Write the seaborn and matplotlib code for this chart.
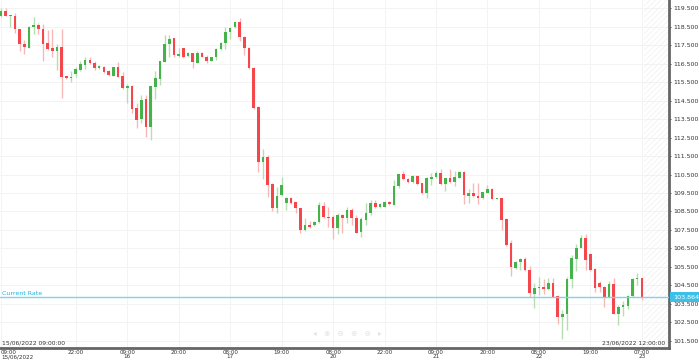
import numpy as np
import pandas as pd
import seaborn as sns
import matplotlib.pyplot as plt

# hourly candles, 15/06/2022 09:00 -> 23/06/2022 (weekend gap removed)
opens = [119.083, 119.372, 119.065, 119.101, 118.361, 117.567, 117.368, 118.505, 118.578, 118.361,
         117.603, 117.368, 117.188, 117.404, 115.816, 115.726, 115.942, 116.159, 116.430, 116.682,
         116.538, 116.249, 116.340, 116.087, 115.834, 116.340, 115.852, 115.184, 115.293, 114.083,
         113.488, 114.571, 113.054, 115.220, 115.690, 116.610, 117.567, 117.892, 116.917, 117.332,
         116.917, 117.061, 116.556, 117.097, 116.881, 116.646, 116.881, 117.278, 117.603, 118.235,
         118.469, 118.740, 117.928, 117.368, 116.285, 114.173, 111.159, 111.430, 109.986, 108.704,
         109.372, 108.939, 109.246, 108.993, 108.668, 107.495, 107.766, 107.748, 107.910, 108.812,
         108.217, 108.217, 107.621, 108.307, 108.128, 108.578, 108.128, 107.403, 108.036, 108.399,
         108.941, 108.724, 108.757, 109.027, 108.849, 109.877, 110.511, 110.240, 110.094, 110.419,
         110.024, 109.482, 110.273, 110.349, 110.598, 109.970, 110.294, 110.110, 110.327, 110.652,
         109.352, 109.515, 109.336, 109.244, 109.515, 109.699, 109.157, 109.212, 108.074, 106.775,
         105.421, 105.778, 105.908, 105.329, 104.029, 104.354, 104.425, 104.316, 104.609, 103.921,
         102.767, 102.946, 104.826, 105.908, 106.504, 107.045, 106.195, 105.367, 104.609, 104.425,
         103.851, 104.555, 102.946, 103.311, 103.396, 103.921, 104.826, 104.880]
closes = [119.372, 119.101, 119.155, 118.361, 117.549, 117.386, 118.505, 118.596, 118.361, 117.549,
          117.314, 117.188, 117.422, 115.798, 115.726, 115.798, 116.195, 116.484, 116.682, 116.520,
          116.267, 116.357, 116.051, 115.870, 116.340, 115.798, 115.166, 115.293, 114.029, 113.452,
          114.535, 113.054, 115.293, 115.708, 116.628, 117.567, 117.838, 116.953, 117.043, 116.881,
          117.061, 116.592, 117.097, 116.881, 116.646, 116.881, 117.278, 117.639, 118.235, 118.415,
          118.776, 117.928, 117.368, 116.249, 114.119, 111.159, 111.466, 109.932, 108.704, 109.336,
          109.932, 109.246, 108.975, 108.668, 107.495, 107.748, 107.675, 107.946, 108.849, 108.181,
          108.163, 107.585, 108.307, 108.128, 108.578, 108.128, 107.349, 108.074, 108.432, 108.941,
          108.724, 108.903, 109.027, 108.887, 109.877, 110.511, 110.240, 110.078, 110.419, 109.986,
          109.482, 110.294, 110.349, 110.598, 109.986, 110.294, 110.110, 110.381, 110.652, 109.390,
          109.515, 109.336, 109.244, 109.536, 109.699, 109.174, 109.212, 108.036, 106.683, 105.475,
          105.778, 105.908, 105.329, 104.067, 104.371, 104.425, 104.316, 104.609, 103.883, 102.767,
          102.946, 104.826, 105.963, 106.504, 107.045, 105.870, 105.329, 104.338, 104.425, 103.851,
          104.555, 102.930, 103.342, 103.434, 103.921, 104.826, 104.880, 103.864]
highs = [119.498, 119.498, 119.155, 119.264, 118.361, 117.784, 118.542, 119.011, 118.686, 118.650,
         118.325, 118.361, 117.567, 118.379, 115.816, 116.123, 116.340, 116.646, 116.845, 116.881,
         116.664, 116.412, 116.376, 116.159, 116.340, 116.610, 116.069, 115.401, 115.347, 114.354,
         114.805, 114.805, 115.293, 116.123, 116.646, 118.054, 118.072, 117.910, 117.332, 117.368,
         117.152, 117.097, 117.188, 117.152, 116.971, 116.881, 117.332, 117.693, 118.469, 118.505,
         118.830, 118.957, 118.000, 117.422, 116.340, 114.209, 111.881, 111.556, 110.058, 109.805,
         110.347, 109.300, 109.264, 109.029, 108.704, 108.127, 108.000, 108.000, 108.993, 108.993,
         108.758, 108.307, 108.397, 108.361, 108.757, 108.670, 108.307, 108.215, 108.941, 109.120,
         109.120, 108.941, 109.081, 109.065, 110.202, 110.527, 110.706, 110.294, 110.473, 110.473,
         110.056, 110.349, 110.598, 110.706, 110.798, 110.294, 110.798, 110.706, 110.690, 110.690,
         109.699, 110.024, 110.056, 109.569, 109.932, 109.753, 109.212, 109.244, 108.129, 106.953,
         105.833, 105.962, 106.049, 105.546, 104.609, 104.966, 104.826, 104.880, 104.880, 103.975,
         103.163, 104.966, 106.141, 106.737, 107.224, 107.278, 106.234, 105.421, 104.733, 104.463,
         104.733, 104.912, 103.434, 103.650, 103.975, 104.880, 105.150, 104.912]
lows = [119.047, 119.083, 118.505, 118.181, 117.206, 117.007, 117.368, 118.108, 118.090, 116.664,
        117.242, 116.881, 116.159, 114.625, 115.690, 115.527, 115.762, 116.123, 116.213, 116.484,
        116.159, 116.213, 116.015, 115.834, 115.834, 115.762, 115.112, 114.354, 113.849, 112.998,
        113.307, 112.549, 112.368, 114.571, 115.347, 116.610, 116.881, 116.845, 116.845, 116.827,
        116.845, 116.267, 116.520, 116.845, 116.520, 116.646, 116.700, 117.242, 117.278, 117.838,
        118.415, 117.747, 116.971, 116.213, 114.029, 110.654, 110.257, 109.300, 108.542, 108.397,
        109.354, 108.578, 108.903, 108.397, 107.314, 107.459, 107.621, 107.711, 107.892, 108.127,
        107.675, 106.990, 107.278, 107.316, 107.858, 107.766, 107.316, 107.132, 107.766, 108.307,
        108.670, 108.670, 108.724, 108.849, 108.849, 109.753, 110.202, 110.056, 110.056, 109.932,
        109.444, 109.212, 109.932, 110.327, 109.932, 109.623, 110.024, 109.877, 110.294, 108.887,
        108.973, 109.298, 108.887, 109.157, 109.482, 109.157, 109.157, 107.495, 106.629, 105.020,
        105.367, 105.329, 105.291, 103.883, 103.255, 103.975, 104.029, 104.246, 103.850, 102.405,
        101.576, 102.080, 104.338, 105.291, 106.504, 105.329, 105.291, 104.154, 104.154, 103.342,
        103.851, 102.930, 102.351, 102.838, 103.201, 103.883, 104.517, 103.705]

current_rate = 103.864
tick_pos = [0, 16, 27, 38, 49, 60, 71, 82, 93, 104, 115, 126, 137]
tick_labels = ["09:00\n15/06/2022", "22:00", "09:00\n16", "20:00", "08:00\n17", "19:00",
               "08:00\n20", "22:00", "09:00\n21", "20:00", "08:00\n22", "19:00", "07:00\n23"]
y_levels = np.arange(101.5, 120.0, 1.0)

df = pd.DataFrame({"open": opens, "high": highs, "low": lows, "close": closes})
df["idx"] = np.arange(len(df))
df["up"] = df["close"] >= df["open"]

sns.set_theme(style="white")
plt.rcParams["font.family"] = ["DejaVu Sans"]
plt.rcParams["hatch.linewidth"] = 0.4

fig = plt.figure(figsize=(6.99, 3.6), dpi=100)
ax = fig.add_axes([0, 12 / 360, 669 / 699, 348 / 360])

green, red = "#45b24a", "#f5474b"
green_w, red_w = "#b5dfb2", "#f8b8b8"

# grid
for y in y_levels:
    ax.axhline(y, color="#f3f3f3", lw=0.7, zorder=0)
for x in tick_pos:
    ax.axvline(x, color="#f3f3f3", lw=0.7, zorder=0)

# future area
ax.axvspan(137.5, 142.8, facecolor="none", hatch="//////", edgecolor="#ececec", lw=0, zorder=0)

# wicks
ax.vlines(df["idx"], df["low"], df["high"],
          colors=np.where(df["up"], green_w, red_w), lw=1.0, zorder=2)
# bodies
body_h = (df["close"] - df["open"]).abs().clip(lower=0.05)
body_b = df[["open", "close"]].min(axis=1)
ax.bar(df["idx"], body_h, bottom=body_b, width=0.56,
       color=np.where(df["up"], green, red), lw=0, zorder=3)

# current rate
cyan = "#3cc0ea"
ax.axhline(current_rate, color="#7fd3ee", lw=1.0, zorder=4)
ax.text(0.003, current_rate + 0.07, "Current Rate", transform=ax.get_yaxis_transform(),
        fontsize=4.5, color="#1fb0e6", va="bottom", ha="left")
ax.text(1.006, current_rate, "103.864", transform=ax.get_yaxis_transform(),
        fontsize=4.6, color="white", va="center", ha="left", zorder=6,
        bbox=dict(facecolor=cyan, edgecolor="none", boxstyle="square,pad=0.45"), clip_on=False)

# range labels
ax.text(0.003, 0.006, "15/06/2022 09:00:00", transform=ax.transAxes, fontsize=4.3,
        color="#333333", ha="left", va="bottom")
ax.text(0.994, 0.006, "23/06/2022 12:00:00", transform=ax.transAxes, fontsize=4.3,
        color="#333333", ha="right", va="bottom")

# faint navigation icons
ax.text(0.52, 0.043, "◂   ⊕   ⊖   ⊕   ⊖   ▸", transform=ax.transAxes, fontsize=5.5,
        color="#e3e3e3", ha="center", va="center")

ax.set_xlim(-0.2, 142.8)
ax.set_ylim(101.105, 119.95)

ax.yaxis.tick_right()
ax.set_yticks(y_levels)
ax.set_yticklabels([f"{v:.3f}" for v in y_levels])
ax.set_xticks(tick_pos)
ax.set_xticklabels(tick_labels, linespacing=0.85)
ax.xaxis.get_majorticklabels()[0].set_horizontalalignment("left")
ax.tick_params(axis="y", right=True, length=1.5, width=0.6, pad=1.5, labelsize=4.5,
               colors="#333333")
ax.tick_params(axis="x", bottom=True, length=1.0, width=0.6, pad=0.3, labelsize=4.1,
               colors="#333333")

for s in ["top", "left"]:
    ax.spines[s].set_visible(False)
for s in ["right", "bottom"]:
    ax.spines[s].set_color("#666666")
    ax.spines[s].set_linewidth(2)

plt.savefig("out.png", dpi=100)
